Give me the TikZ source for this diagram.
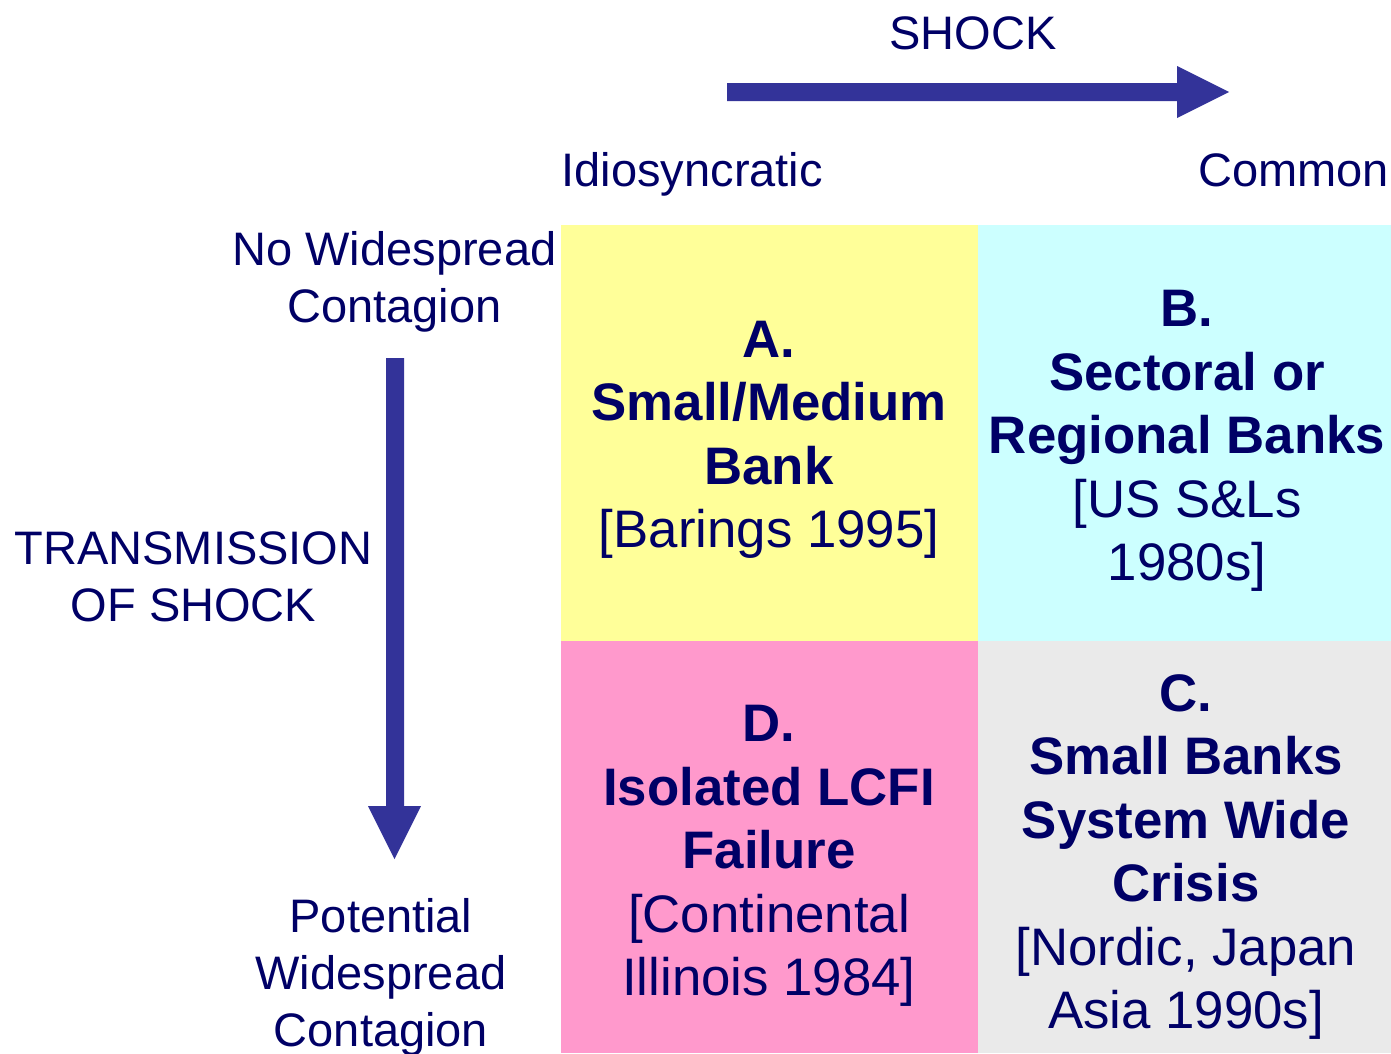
\documentclass[tikz,border=0pt]{standalone}
\usepackage{fontspec}
\setmainfont{Liberation Sans}
\definecolor{txt}{HTML}{000066}
\definecolor{arr}{HTML}{333399}
\definecolor{qyellow}{HTML}{FFFF99}
\definecolor{qcyan}{HTML}{CCFFFF}
\definecolor{qpink}{HTML}{FF99CC}
\definecolor{qgray}{HTML}{EAEAEA}
\begin{document}
\begin{tikzpicture}[x=1pt,y=-1pt,
  side/.style={text=txt,inner sep=0pt,align=center,font=\fontsize{47}{57}\selectfont},
  quad/.style={text=txt,inner sep=0pt,align=center,anchor=north,font=\fontsize{52.8}{63.5}\selectfont},
  arrowshape/.style={fill=arr,draw=none}]
\useasboundingbox (0,0) rectangle (1391,1053);
% quadrants
\fill[qyellow] (561,225) rectangle (978,641);
\fill[qcyan] (978,225) rectangle (1391,641);
\fill[qpink] (561,641) rectangle (978,1053);
\fill[qgray] (978,641) rectangle (1391,1053);
% horizontal arrow
\fill[arrowshape] (727,83) -- (1177,83) -- (1177,66) -- (1229,92) -- (1177,118) -- (1177,101) -- (727,101) -- cycle;
% vertical arrow
\fill[arrowshape] (386,358) -- (404,358) -- (404,806) -- (421,806) -- (394.5,859) -- (368,806) -- (386,806) -- cycle;
% labels
\node[side,anchor=base] (shock) at (973,49) {SHOCK};
\node[side,anchor=base west] (idio) at (561.5,186.7) {Idiosyncratic};
\node[side,anchor=base east] (common) at (1389,186.7) {Common};
\node[side,anchor=north] (nowide) at (394.5,231) {No Widespread\\Contagion};
\node[side,anchor=north] (trans) at (193.5,531) {TRANSMISSION\\OF SHOCK};
\node[side,anchor=north] (potential) at (381,898) {Potential\\Widespread\\Contagion};
% quadrant texts
\node[quad] (qa) at (769,320.7) {\textbf{A.}\\\textbf{Small/Medium}\\\textbf{Bank}\\{}[Barings 1995]};
\node[quad] (qb) at (1187,290) {\textbf{B.}\\\textbf{Sectoral or}\\\textbf{Regional Banks}\\{}[US S\&Ls\\1980s]};
\node[quad] (qd) at (769,705) {\textbf{D.}\\\textbf{Isolated LCFI}\\\textbf{Failure}\\{}[Continental\\Illinois 1984]};
\node[quad] (qc) at (1186,674) {\textbf{C.}\\\textbf{Small Banks}\\\textbf{System Wide}\\\textbf{Crisis}\\{}[Nordic, Japan\\Asia 1990s]};
\end{tikzpicture}
\end{document}
